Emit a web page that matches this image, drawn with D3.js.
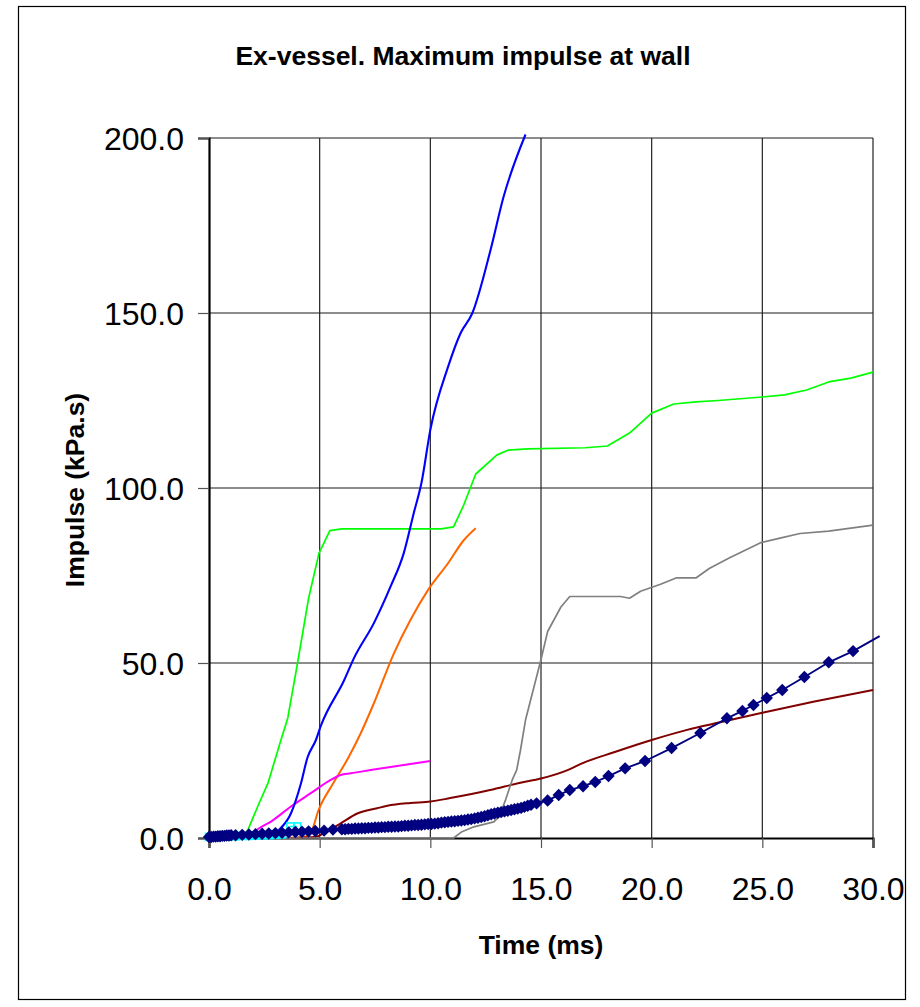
<!DOCTYPE html>
<meta charset="utf-8">
<style>
  body { margin: 0; background: #fff; }
  text { font-family: "Liberation Sans", Arial, sans-serif; fill: #000; }
</style>
<body>
<script src="https://cdn.jsdelivr.net/npm/d3@7"></script>
<script>

  // values: [time ms, impulse kPa.s]
  let greenData = [[0,0],[1.5,0.5],[1.76,2.3],[2.2,9],[2.66,15.6],[3.25,28],[3.56,34.3],[4.0,50],[4.5,68.5],
    [4.97,81.4],[5.46,87.8],[6.0,88.3],[10.5,88.3],[11.05,88.9],[11.5,95],[12.05,104],[13.0,109.4],[13.5,110.8],
    [14.4,111.2],[17,111.5],[18,112],[19,115.7],[20,121.4],[21,124],[22,124.6],[23,125],[25,126],[26,126.6],
    [27,128],[28,130.3],[29,131.4],[30,133.1]];

  let blueData = [[0,0],[2.8,0.5],[3.16,2.3],[3.7,7],[4.15,15.5],[4.45,23],[4.83,28],[5.05,32],[6.1,45],[6.55,51.4],
    [7.45,61.4],[8.2,71.8],[8.8,81.4],[9.25,92.8],[9.6,101.5],[10.0,116.6],[10.8,134.6],[11.37,144.3],[11.9,150],
    [12.72,168],[13.3,183],[14.3,201]];

  let orangeData = [[3.6,0],[4.3,0.3],[4.6,1.5],[4.95,8],[5.6,15.5],[6.3,23],[6.86,30],[7.45,38.5],[8.35,52.7],
    [9.1,62.3],[9.9,70.9],[10.8,78.5],[11.5,85],[12.05,88.5]];

  let magentaData = [[0,0],[1.8,0.5],[2.2,2.5],[2.8,4.7],[3.7,9],[4.6,12.8],[5.5,16.6],[5.95,18],[6.4,18.5],
    [7.3,19.4],[8.2,20.3],[10,22]];

  let darkRedData = [[3.7,0],[4.8,0.3],[5.2,1.4],[5.95,4.2],[6.7,7],[7.6,8.5],[8.06,9.2],[9.1,10],[10,10.4],
    [10.9,11.4],[12.7,13.7],[14.07,15.8],[15,17],[16.2,19.4],[16.8,21.2],[18.3,24.5],[20,28],[21.6,30.9],
    [23.2,33.2],[25,35.8],[27.3,38.9],[30,42.3]];

  let grayData = [[0,0],[11.05,0],[11.4,1.7],[11.97,3.2],[12.87,4.6],[13.1,6],[13.4,10.9],[13.7,16.6],[13.9,19.4],
    [14.07,25],[14.3,33.7],[15,51],[15.3,59],[15.9,66],[16.3,69],[18.6,69],[19,68.5],[19.5,70.5],[20.4,72.5],
    [21.1,74.3],[22,74.3],[22.6,77],[23.5,80],[24.9,84.3],[25.8,85.7],[26.7,87],[28,87.7],[30,89.4]];

  let cyanData = [[0,0.3],[0.3,0.4],[0.6,0.4],[0.9,0.5],[1.2,0.5],[1.5,0.6],[1.8,0.6],[2.1,0.7],[2.4,0.8],
    [2.7,0.8],[3.0,0.9],[3.3,1.0],[3.68,3.3],[3.99,3.3]];

  let navyData = [[0,0.3],[0.1,0.3],[0.2,0.4],[0.3,0.4],[0.4,0.5],[0.5,0.5],[0.6,0.6],[0.7,0.6],[0.8,0.7],
    [0.9,0.7],[1.0,0.8],[1.2,0.8],[1.5,0.9],[1.8,1.0],[2.1,1.1],[2.4,1.2],[2.7,1.3],[3.0,1.4],[3.3,1.5],
    [3.6,1.6],[3.9,1.7],[4.2,1.8],[4.5,1.9],[4.8,2.0],[5.2,2.1],[5.6,2.4],[6.0,2.5],[6.15,2.5],[6.3,2.6],
    [6.45,2.6],[6.6,2.7],[6.75,2.7],[6.9,2.8],[7.05,2.8],[7.2,2.9],[7.35,2.9],[7.5,3.0],[7.65,3.0],[7.8,3.1],
    [7.95,3.1],[8.1,3.2],[8.25,3.2],[8.4,3.3],[8.55,3.3],[8.7,3.4],[8.85,3.5],[9.0,3.5],[9.15,3.6],[9.3,3.7],
    [9.45,3.7],[9.6,3.8],[9.75,3.9],[9.9,4.0],[10.05,4.0],[10.2,4.1],[10.35,4.2],[10.5,4.4],[10.65,4.5],
    [10.8,4.6],[10.95,4.7],[11.1,4.8],[11.25,4.9],[11.4,5.0],[11.55,5.1],[11.7,5.3],[11.85,5.4],[12.0,5.6],
    [12.15,5.8],[12.3,6.0],[12.45,6.2],[12.6,6.5],[12.75,6.8],[12.9,7.0],[13.05,7.2],[13.2,7.4],[13.35,7.6],
    [13.5,7.8],[13.65,8.0],[13.8,8.2],[13.95,8.4],[14.1,8.6],[14.25,8.9],[14.4,9.2],[14.55,9.5],[14.8,9.9],
    [15.3,10.7],[15.8,12.3],[16.3,13.7],[16.9,14.8],[17.45,16.0],[18.05,17.7],[18.8,19.9],[19.7,22.0],
    [20.9,25.7],[22.2,30.0],[23.4,34.2],[24.1,36.3],[24.6,38.0],[25.2,40.0],[25.9,42.3],[26.9,46.0],
    [28.0,50.2],[29.1,53.4],[30.3,57.7]];

  let xTicks = [0, 5, 10, 15, 20, 25, 30],
    yTicks = [0, 50, 100, 150, 200];

  let width = 920,
    height = 1007,
    margin = {top: 138, right: 47, bottom: 169, left: 209};

  let x = d3.scaleLinear().domain([0, 30]).range([margin.left, width - margin.right]),
    y = d3.scaleLinear().domain([0, 200]).range([height - margin.bottom, margin.top]);

  let svg = d3.select("body").append("svg")
    .attr("width", width)
    .attr("height", height);

  svg.append("rect")
    .attr("x", 18.5).attr("y", 6.5)
    .attr("width", 887).attr("height", 993)
    .attr("fill", "#fff").attr("stroke", "#000").attr("stroke-width", 1.2);

  // grid
  svg.append("g").selectAll("line")
    .data(yTicks.slice(1))
    .enter().append("line")
    .attr("x1", x(0)).attr("x2", x(30))
    .attr("y1", d => y(d)).attr("y2", d => y(d))
    .attr("stroke", "#666").attr("stroke-width", 1.5);

  svg.append("g").selectAll("line")
    .data(xTicks.slice(1))
    .enter().append("line")
    .attr("x1", d => x(d)).attr("x2", d => x(d))
    .attr("y1", y(0)).attr("y2", y(200))
    .attr("stroke", "#222").attr("stroke-width", 1.2);

  // axes
  let xAxis = d3.axisBottom(x).tickValues(xTicks).tickSize(10).tickFormat(d3.format(".1f"));
  let yAxis = d3.axisLeft(y).tickValues(yTicks).tickSize(11).tickFormat(d3.format(".1f"));

  let gx = svg.append("g").attr("transform", "translate(0," + y(0) + ")").call(xAxis);
  let gy = svg.append("g").attr("transform", "translate(" + x(0) + ",0)").call(yAxis);

  [gx, gy].forEach(function(g) {
    g.select(".domain").attr("stroke", "#000").attr("stroke-width", 2.2);
    g.selectAll(".tick line").attr("stroke", "#555").attr("stroke-width", 1.2);
    g.selectAll(".tick text").attr("font-size", 32).attr("font-family", "Liberation Sans, Arial, sans-serif").attr("fill", "#000");
  });
  gx.selectAll(".tick text").attr("dy", null).attr("y", 62);
  gy.selectAll(".tick text").attr("dy", null).attr("x", -25).attr("y", 11);

  let line = d3.line().x(d => x(d[0])).y(d => y(d[1]));
  let smooth = d3.line().curve(d3.curveMonotoneX).x(d => x(d[0])).y(d => y(d[1]));

  function drawLine(data, color, w, gen) {
    svg.append("path")
      .datum(data)
      .attr("d", gen || line)
      .attr("fill", "none")
      .attr("stroke", color)
      .attr("stroke-width", w)
      .attr("stroke-linejoin", "round");
  }

  drawLine(greenData, "#00ff00", 1.7);
  drawLine(orangeData, "#ff6600", 2, smooth);
  drawLine(magentaData, "#ff00ff", 2, smooth);
  drawLine(blueData, "#0000ff", 2.1, smooth);
  drawLine(darkRedData, "#800000", 2, smooth);
  drawLine(grayData, "#808080", 1.7);

  // cyan series with open squares
  drawLine(cyanData, "#00ffff", 1.6);
  svg.append("g").selectAll("rect")
    .data(cyanData)
    .enter().append("rect")
    .attr("x", d => x(d[0]) - 3.5).attr("y", d => y(d[1]) - 3.5)
    .attr("width", 7).attr("height", 7)
    .attr("fill", "none").attr("stroke", "#00ffff").attr("stroke-width", 1.6);

  // navy series with diamonds
  drawLine(navyData, "#000080", 1.9);
  svg.append("g").selectAll("path")
    .data(navyData.filter(d => d[0] <= 30))
    .enter().append("path")
    .attr("d", d => {
      let cx = x(d[0]), cy = y(d[1]), r = 6.2;
      return "M" + cx + "," + (cy - r) + "L" + (cx + r) + "," + cy + "L" + cx + "," + (cy + r) + "L" + (cx - r) + "," + cy + "Z";
    })
    .attr("fill", "#000080");

  // titles
  svg.append("text")
    .attr("x", 463).attr("y", 65)
    .attr("text-anchor", "middle")
    .attr("font-size", 26.5).attr("font-weight", "bold")
    .text("Ex-vessel. Maximum impulse at wall");

  svg.append("text")
    .attr("x", 541).attr("y", 954)
    .attr("text-anchor", "middle")
    .attr("font-size", 26.5).attr("font-weight", "bold")
    .text("Time (ms)");

  svg.append("text")
    .attr("transform", "translate(84,490) rotate(-90)")
    .attr("text-anchor", "middle")
    .attr("font-size", 26.5).attr("font-weight", "bold")
    .text("Impulse (kPa.s)");

</script>
